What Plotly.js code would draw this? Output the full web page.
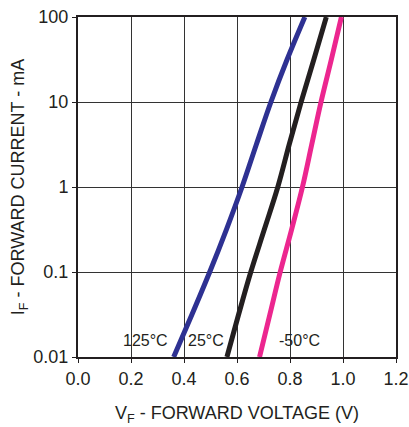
<!DOCTYPE html>
<html><head><meta charset="utf-8">
<script src="https://cdn.plot.ly/plotly-3.0.1.min.js"></script>
<style>html,body{margin:0;padding:0;background:#fff}</style>
</head><body>
<div id="chart" style="width:409px;height:427px"></div>
<script>
// Forward current (mA) levels
var currents = [0.01, 0.0316, 0.1, 0.316, 1, 3.16, 10, 31.6, 100];
// Forward voltage (V) for each temperature
var v125 = [0.361, 0.430, 0.497, 0.560, 0.619, 0.673, 0.728, 0.789, 0.856];
var v25  = [0.562, 0.606, 0.652, 0.703, 0.754, 0.797, 0.842, 0.890, 0.937];
var vm50 = [0.685, 0.724, 0.763, 0.806, 0.847, 0.882, 0.917, 0.956, 0.994];
var seriesNames = ['125°C', '25°C', '-50°C'];
var seriesColors = ['#2e3192', '#231f20', '#ec268f'];
var labelX = [0.254, 0.484, 0.835];
var labelY = [0.0158, 0.0158, 0.0158];
var xTicks = [0, 0.2, 0.4, 0.6, 0.8, 1.0, 1.2];
var xTickText = ['0.0', '0.2', '0.4', '0.6', '0.8', '1.0', '1.2'];
var yTicks = [0.01, 0.1, 1, 10, 100];
var yTickText = ['0.01', '0.1', '1', '10', '100'];

var vs = [v125, v25, vm50];
var traces = vs.map(function(v, i) {
  return {x: v, y: currents, type: 'scatter', mode: 'lines', name: seriesNames[i],
    line: {color: seriesColors[i], width: 5, shape: 'spline', smoothing: 1}, hoverinfo: 'skip'};
});
var fam = 'Liberation Sans, Arial, sans-serif';
var col = '#231f20';
var layout = {
  width: 409, height: 427,
  margin: {l: 78, r: 13, t: 17, b: 70},
  showlegend: false,
  paper_bgcolor: '#fff', plot_bgcolor: '#fff',
  font: {family: fam, color: col},
  xaxis: {range: [0, 1.2], tickvals: xTicks, ticktext: xTickText,
    showgrid: true, gridcolor: '#333', gridwidth: 1,
    ticks: 'outside', ticklen: 4, tickcolor: col,
    showline: true, linecolor: col, linewidth: 2, mirror: true,
    zeroline: false, tickfont: {size: 18, family: fam, color: col},
    title: {text: 'V<sub>F</sub> - FORWARD VOLTAGE (V)', font: {size: 18, family: fam, color: col}, standoff: 19}},
  yaxis: {type: 'log', range: [-2, 2], tickvals: yTicks, ticktext: yTickText,
    showgrid: true, gridcolor: '#333', gridwidth: 1,
    ticks: 'outside', ticklen: 4, tickcolor: col,
    showline: true, linecolor: col, linewidth: 2, mirror: true,
    zeroline: false, tickfont: {size: 18, family: fam, color: col},
    title: {text: 'I<sub>F</sub> - FORWARD CURRENT - mA', font: {size: 18, family: fam, color: col}, standoff: 4}},
  annotations: seriesNames.map(function(n, i) {
    return {x: labelX[i], y: Math.log10(labelY[i]), xref: 'x', yref: 'y', text: n,
      showarrow: false, font: {size: 16, family: fam, color: col}};
  })
};
Plotly.newPlot('chart', traces, layout, {displayModeBar: false, staticPlot: true});
</script>
</body></html>
